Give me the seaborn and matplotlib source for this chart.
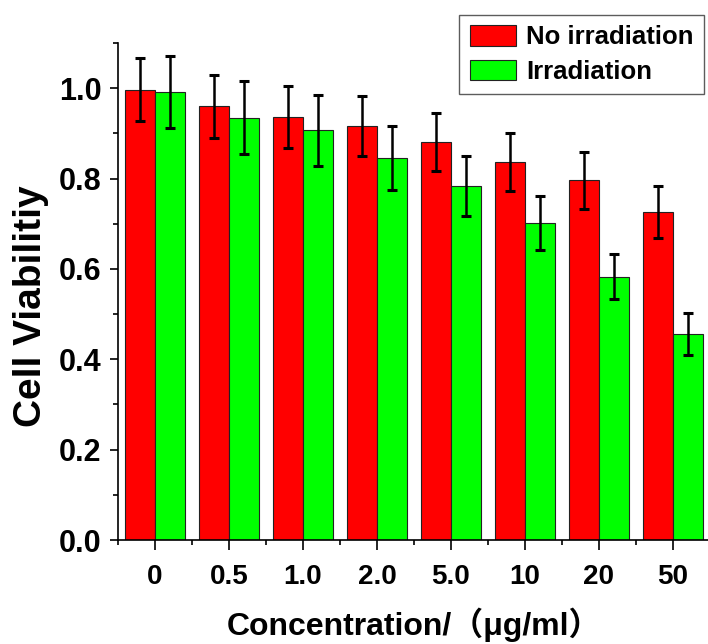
import numpy as np
import pandas as pd
import seaborn as sns
import matplotlib
matplotlib.use("Agg")
import matplotlib.pyplot as plt
from matplotlib.ticker import MultipleLocator, FixedLocator

concentrations = ["0", "0.5", "1.0", "2.0", "5.0", "10", "20", "50"]
no_irr = [0.997, 0.960, 0.936, 0.916, 0.880, 0.837, 0.796, 0.726]
no_irr_err = [0.070, 0.070, 0.068, 0.067, 0.064, 0.064, 0.063, 0.058]
irr = [0.992, 0.935, 0.907, 0.845, 0.784, 0.701, 0.583, 0.456]
irr_err = [0.080, 0.080, 0.079, 0.071, 0.067, 0.060, 0.050, 0.046]
groups = ["No irradiation", "Irradiation"]

df = pd.DataFrame({
    "conc": concentrations * 2,
    "viability": no_irr + irr,
    "condition": [groups[0]] * len(no_irr) + [groups[1]] * len(irr),
})

sns.set_theme(style="ticks")
plt.rcParams['font.family'] = ['Liberation Sans', 'Noto Sans CJK SC']
plt.rcParams['font.weight'] = 'bold'
plt.rcParams['axes.labelweight'] = 'bold'
plt.rcParams['text.color'] = 'black'
plt.rcParams['axes.labelcolor'] = 'black'
plt.rcParams['xtick.color'] = 'black'
plt.rcParams['ytick.color'] = 'black'

fig = plt.figure(figsize=(7.08, 6.44), dpi=100)
ax = fig.add_axes([118 / 708, 1 - 540 / 644, (710 - 118) / 708, (540 - 43) / 644])

sns.barplot(data=df, x="conc", y="viability", hue="condition",
            palette=["#ff0000", "#00ff00"], saturation=1, edgecolor="#222222", linewidth=0.8,
            errorbar=None, width=0.8, ax=ax)

for cont, errs in zip(ax.containers, [no_irr_err, irr_err]):
    xs = [b.get_x() + b.get_width() / 2 for b in cont]
    ys = [b.get_height() for b in cont]
    ax.errorbar(xs, ys, yerr=errs, fmt='none', ecolor='black',
                elinewidth=1.8, capsize=3.4, capthick=2.2, zorder=5)

ax.set_ylim(0, 1.1)
ax.set_xlim(-0.5, 7.5)
ax.yaxis.set_major_locator(MultipleLocator(0.2))
ax.yaxis.set_minor_locator(MultipleLocator(0.1))
ax.yaxis.set_major_formatter(matplotlib.ticker.FormatStrFormatter('%.1f'))
ax.xaxis.set_minor_locator(FixedLocator(np.arange(-0.5, 7.5, 1)))

for s in ['top', 'right']:
    ax.spines[s].set_visible(False)
for s in ['left', 'bottom']:
    ax.spines[s].set_linewidth(1.2)
    ax.spines[s].set_color('black')

ax.tick_params(axis='y', which='major', length=6, width=1.2, labelsize=22, pad=6, colors='black')
ax.tick_params(axis='y', which='minor', length=3.5, width=1.2)
ax.tick_params(axis='x', which='major', length=7, width=1.2, labelsize=20, pad=10, colors='black')
ax.tick_params(axis='x', which='minor', length=3.5, width=1.2)
for lab in ax.get_xticklabels() + ax.get_yticklabels():
    lab.set_fontweight('bold')

ax.set_ylabel("Cell Viabilitiy", fontsize=28, fontweight='bold')
ax.yaxis.set_label_coords(-0.117, 0.47)
ax.set_xlabel("Concentration/（μg/ml）", fontsize=23, fontweight='bold', labelpad=13)

handles, labels = ax.get_legend_handles_labels()
ax.get_legend().remove()
leg = fig.legend(handles, labels, loc='upper right', bbox_to_anchor=(704 / 708, 1 - 15 / 644),
                 fontsize=18.5, frameon=True, fancybox=False, handlelength=1.8,
                 handleheight=0.85, handletextpad=0.4, borderpad=0.4, labelspacing=0.4,
                 borderaxespad=0)
leg.get_frame().set_edgecolor('#333333')
leg.get_frame().set_linewidth(1.0)
for t in leg.get_texts():
    t.set_fontweight('bold')

fig.savefig("out.png", dpi=100)
